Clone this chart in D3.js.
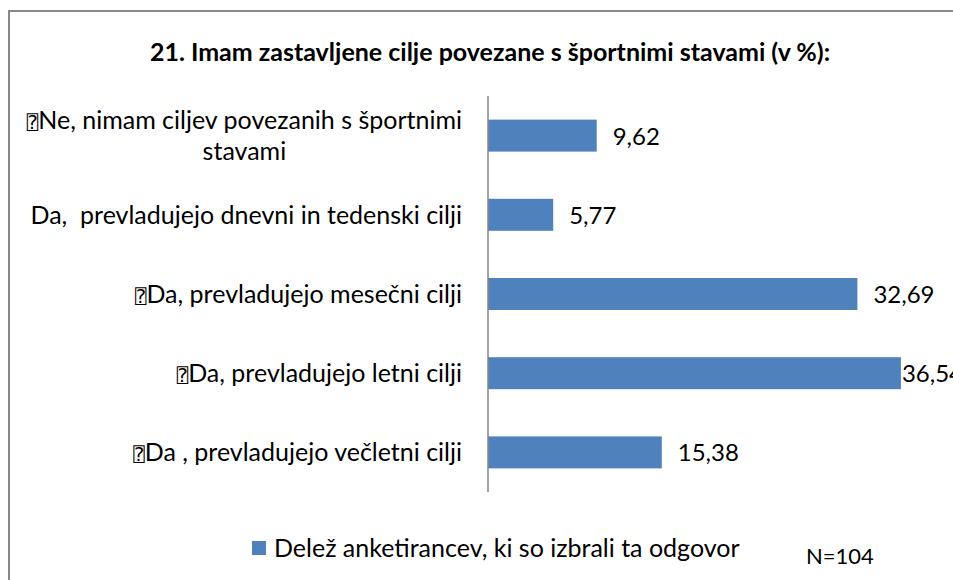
<!DOCTYPE html>
<html>
<head>
<meta charset="utf-8">
<script src="https://d3js.org/d3.v7.min.js"></script>
<style>
  html, body { margin: 0; background: #fff; overflow: hidden; }
  svg { display: block; }
  text { font-family: Lato, 'Open Sans', sans-serif; fill: #000; white-space: pre; }
</style>
</head>
<body>
<script>
  // data
  var categories = [
    "\u2370Ne, nimam ciljev povezanih s športnimi|stavami",
    "Da,  prevladujejo dnevni in tedenski cilji",
    "\u2370Da, prevladujejo mesečni cilji",
    "\u2370Da, prevladujejo letni cilji",
    "\u2370Da , prevladujejo večletni cilji"
  ];
  var values = [9.62, 5.77, 32.69, 36.54, 15.38];
  var title = "21. Imam zastavljene cilje povezane s športnimi stavami (v %):";
  var seriesName = "Delež anketirancev, ki so izbrali ta odgovor";
  var note = "N=104";

  var width = 953, height = 580;
  var blue = "#4f81bd";
  var fs = 25;

  var svg = d3.select("body").append("svg")
    .attr("width", width)
    .attr("height", height);

  // chart frame: only left and top edges are in view
  svg.append("path")
    .attr("d", "M9," + height + "V11H" + width)
    .attr("fill", "none")
    .attr("stroke", "#888")
    .attr("stroke-width", 2);

  svg.append("text")
    .attr("x", 490).attr("y", 61)
    .attr("text-anchor", "middle")
    .style("font-weight", "bold")
    .style("font-size", fs + "px")
    .text(title);

  var x = d3.scaleLinear().domain([0, 40]).range([488, 940]);
  var y = d3.scaleBand().domain(categories).range([96, 492])
    .paddingInner(0.596).paddingOuter(0.298);

  svg.selectAll("rect.bar")
    .data(values)
    .enter().append("rect")
    .attr("class", "bar")
    .attr("x", x(0))
    .attr("y", function(d, i) { return y(categories[i]); })
    .attr("width", function(d) { return x(d) - x(0); })
    .attr("height", y.bandwidth())
    .attr("fill", blue);

  svg.append("line")
    .attr("x1", x(0)).attr("x2", x(0))
    .attr("y1", 96).attr("y2", 492)
    .attr("stroke", "#868686")
    .attr("stroke-width", 1.5);

  // category labels
  var labelX = x(0) - 26;
  var dy = 9;
  categories.forEach(function(c, i) {
    var lines = c.split("|");
    var cy = y(c) + y.bandwidth() / 2;
    var t = svg.append("text").style("font-size", fs + "px");
    if (lines.length == 1) {
      t.attr("x", labelX).attr("y", cy + dy).attr("text-anchor", "end");
      addText(t, lines[0]);
    } else {
      // wrapped label, lines centred on each other
      var lh = 31;
      t.attr("text-anchor", "middle");
      var first = t.append("tspan").attr("y", cy - lh / 2 + dy);
      addText(first, lines[0]);
      var w = t.node().getComputedTextLength();
      var cx = labelX - w / 2;
      first.attr("x", cx);
      t.append("tspan").attr("x", cx).attr("y", cy + lh / 2 + dy).text(lines[1]);
    }
  });

  function addText(sel, s) {
    if (s.charAt(0) == "\u2370") {
      sel.append("tspan")
        .style("font-family", "'DejaVu Sans Mono', 'DejaVu Sans'")
        .style("font-size", "19px")
        .text("\u2370");
      sel.append("tspan").text(s.slice(1));
    } else {
      sel.append("tspan").text(s);
    }
  }

  // value labels, pulled back in when they would leave the frame
  var fmt = function(v) { return d3.format(".2f")(v).replace(".", ","); };
  svg.selectAll("text.val")
    .data(values)
    .enter().append("text")
    .attr("class", "val")
    .style("font-size", "24px")
    .attr("y", function(d, i) { return y(categories[i]) + y.bandwidth() / 2 + dy; })
    .text(fmt)
    .attr("x", function(d) {
      var w = this.getComputedTextLength();
      return x(d) + 16 + w > x.range()[1] ? x(d) + 1 : x(d) + 16;
    });

  // legend
  svg.append("rect")
    .attr("x", 252).attr("y", 541)
    .attr("width", 14).attr("height", 14)
    .attr("fill", blue);
  svg.append("text")
    .attr("x", 274).attr("y", 557)
    .style("font-size", fs + "px")
    .text(seriesName);

  svg.append("text")
    .attr("x", 806).attr("y", 564)
    .style("font-size", "22px")
    .text(note);
</script>
</body>
</html>
